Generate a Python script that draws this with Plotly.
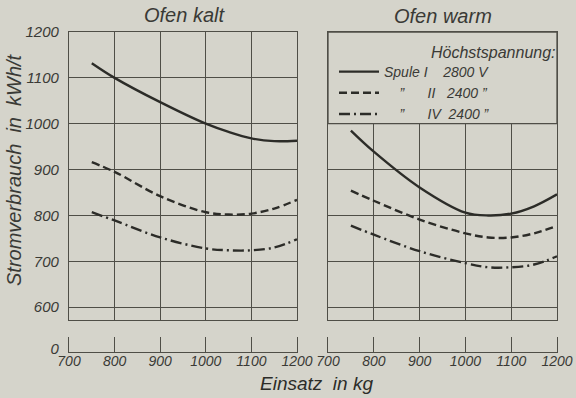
import plotly.graph_objects as go

# Einsatz in kg (x positions)
x_vals = [750, 800, 900, 1000, 1050, 1100, 1150, 1200]

# Ofen kalt
kalt_I = [1132, 1100, 1047, 1000, 982, 968, 962, 963]
kalt_II = [916, 895, 842, 807, 802, 804, 815, 834]
kalt_IV = [807, 789, 752, 728, 724, 724, 730, 748]

# Ofen warm
warm_I = [985, 939, 861, 806, 800, 804, 820, 846]
warm_II = [854, 832, 791, 761, 752, 752, 761, 777]
warm_IV = [778, 758, 722, 696, 687, 687, 693, 711]

NB = "\u00a0"
names = ["Spule" + NB + "I" + NB * 4 + "2800" + NB + "V",
         NB * 4 + "\u201d" + NB * 6 + "II" + NB * 3 + "2400" + NB + "\u201d",
         NB * 4 + "\u201d" + NB * 6 + "IV" + NB * 2 + "2400" + NB + "\u201d"]
dashes = ["solid", "8px,4px", "11px,4px,2px,4px"]

x_ticks = [700, 800, 900, 1000, 1100, 1200]
y_ticks = [600, 700, 800, 900, 1000, 1100, 1200]

BG = "#d5d4cb"
INK = "#2c2c28"
GRID = "#4f4e47"
TXT = "#3a3a36"
FONT = "Liberation Sans"

fig = go.Figure()
for i, ys in enumerate([kalt_I, kalt_II, kalt_IV]):
    fig.add_trace(go.Scatter(x=x_vals, y=ys, mode="lines", xaxis="x", yaxis="y",
                             line=dict(color=INK, width=2.4, dash=dashes[i], shape="spline", smoothing=1),
                             showlegend=False))
for i, ys in enumerate([warm_I, warm_II, warm_IV]):
    fig.add_trace(go.Scatter(x=x_vals, y=ys, mode="lines", xaxis="x2", yaxis="y2",
                             name=names[i],
                             line=dict(color=INK, width=2.4, dash=dashes[i], shape="spline", smoothing=1),
                             showlegend=True))
# empty traces so the broken-axis stubs are created
fig.add_trace(go.Scatter(x=[], y=[], xaxis="x3", yaxis="y3", showlegend=False))
fig.add_trace(go.Scatter(x=[], y=[], xaxis="x4", yaxis="y4", showlegend=False))

tickfont = dict(family=FONT, size=15, color=TXT, style="italic")
xtickfont = dict(family=FONT, size=14, color=TXT, style="italic")

up_dom = [1 - 320 / 398, 1 - 32 / 398]
stub_dom = [1 - 352 / 398, 1 - 337 / 398]
left_dom = [69 / 576, 297 / 576]
right_dom = [328 / 576, 557 / 576]

common_x = dict(range=[700, 1200], tickvals=x_ticks, showgrid=True, gridcolor=GRID, gridwidth=1.2,
                zeroline=False, showline=True, linecolor=GRID, linewidth=1.3, automargin=False,
                ticks="", tickfont=xtickfont, fixedrange=True)
common_y = dict(zeroline=False, showline=True, linecolor=GRID, linewidth=1.3, automargin=False,
                ticks="", tickfont=tickfont, mirror=True, fixedrange=True)

layout = dict(
    width=576, height=398, margin=dict(l=0, r=0, t=0, b=0, autoexpand=False),
    paper_bgcolor=BG, plot_bgcolor=BG,
    xaxis=dict(common_x, domain=left_dom, anchor="y", mirror=True, showticklabels=False),
    yaxis=dict(common_y, domain=up_dom, anchor="x", range=[572, 1200], tickvals=y_ticks,
               showgrid=True, gridcolor=GRID, gridwidth=1.2, ticklabelstandoff=6),
    xaxis2=dict(common_x, domain=right_dom, anchor="y2", mirror=True, showticklabels=False),
    yaxis2=dict(common_y, domain=up_dom, anchor="x2", range=[572, 1200], tickvals=y_ticks,
                showgrid=True, gridcolor=GRID, gridwidth=1.2, showticklabels=False),
    xaxis3=dict(common_x, domain=left_dom, anchor="y3", mirror=False, ticklabelstandoff=-4),
    yaxis3=dict(common_y, domain=stub_dom, anchor="x3", range=[0, 1], tickvals=[0.2], ticktext=["0"],
                showgrid=False, ticklabelstandoff=6),
    xaxis4=dict(common_x, domain=right_dom, anchor="y4", mirror=False, ticklabelstandoff=-4),
    yaxis4=dict(common_y, domain=stub_dom, anchor="x4", range=[0, 1], tickvals=[0],
                showgrid=False, showticklabels=False),
    legend=dict(x=334 / 576, y=1 - 56 / 398, xanchor="left", yanchor="top",
                bgcolor="rgba(0,0,0,0)", borderwidth=0, tracegroupgap=0,
                font=dict(family=FONT, size=14, color=TXT, style="italic"),
                itemwidth=40),
    shapes=[dict(type="rect", xref="x2", yref="y2", x0=700, x1=1200, y0=1000, y1=1200,
                 fillcolor=BG, line=dict(color=GRID, width=1.3), layer="above")],
    annotations=[
        dict(text="Ofen kalt", x=184 / 576, y=1 - 15 / 398, xref="paper", yref="paper",
             xanchor="center", yanchor="middle", showarrow=False,
             font=dict(family=FONT, size=20, color=TXT, style="italic")),
        dict(text="Ofen warm", x=443 / 576, y=1 - 16 / 398, xref="paper", yref="paper",
             xanchor="center", yanchor="middle", showarrow=False,
             font=dict(family=FONT, size=20, color=TXT, style="italic")),
        dict(text="Höchstspannung:", x=558 / 576, y=1 - 52 / 398, xref="paper", yref="paper",
             xanchor="right", yanchor="middle", showarrow=False,
             font=dict(family=FONT, size=16, color=TXT, style="italic")),
        dict(text="Einsatz  in kg", x=316 / 576, y=1 - 383 / 398, xref="paper", yref="paper",
             xanchor="center", yanchor="middle", showarrow=False,
             font=dict(family=FONT, size=19, color=INK, style="italic")),
        dict(text="Stromverbrauch  in  kWh/t", x=14 / 576, y=1 - 170 / 398, xref="paper", yref="paper",
             xanchor="center", yanchor="middle", textangle=-90, showarrow=False,
             font=dict(family=FONT, size=20, color=TXT, style="italic")),
    ],
)
fig.update_layout(layout)
fig.write_html("out.html")
